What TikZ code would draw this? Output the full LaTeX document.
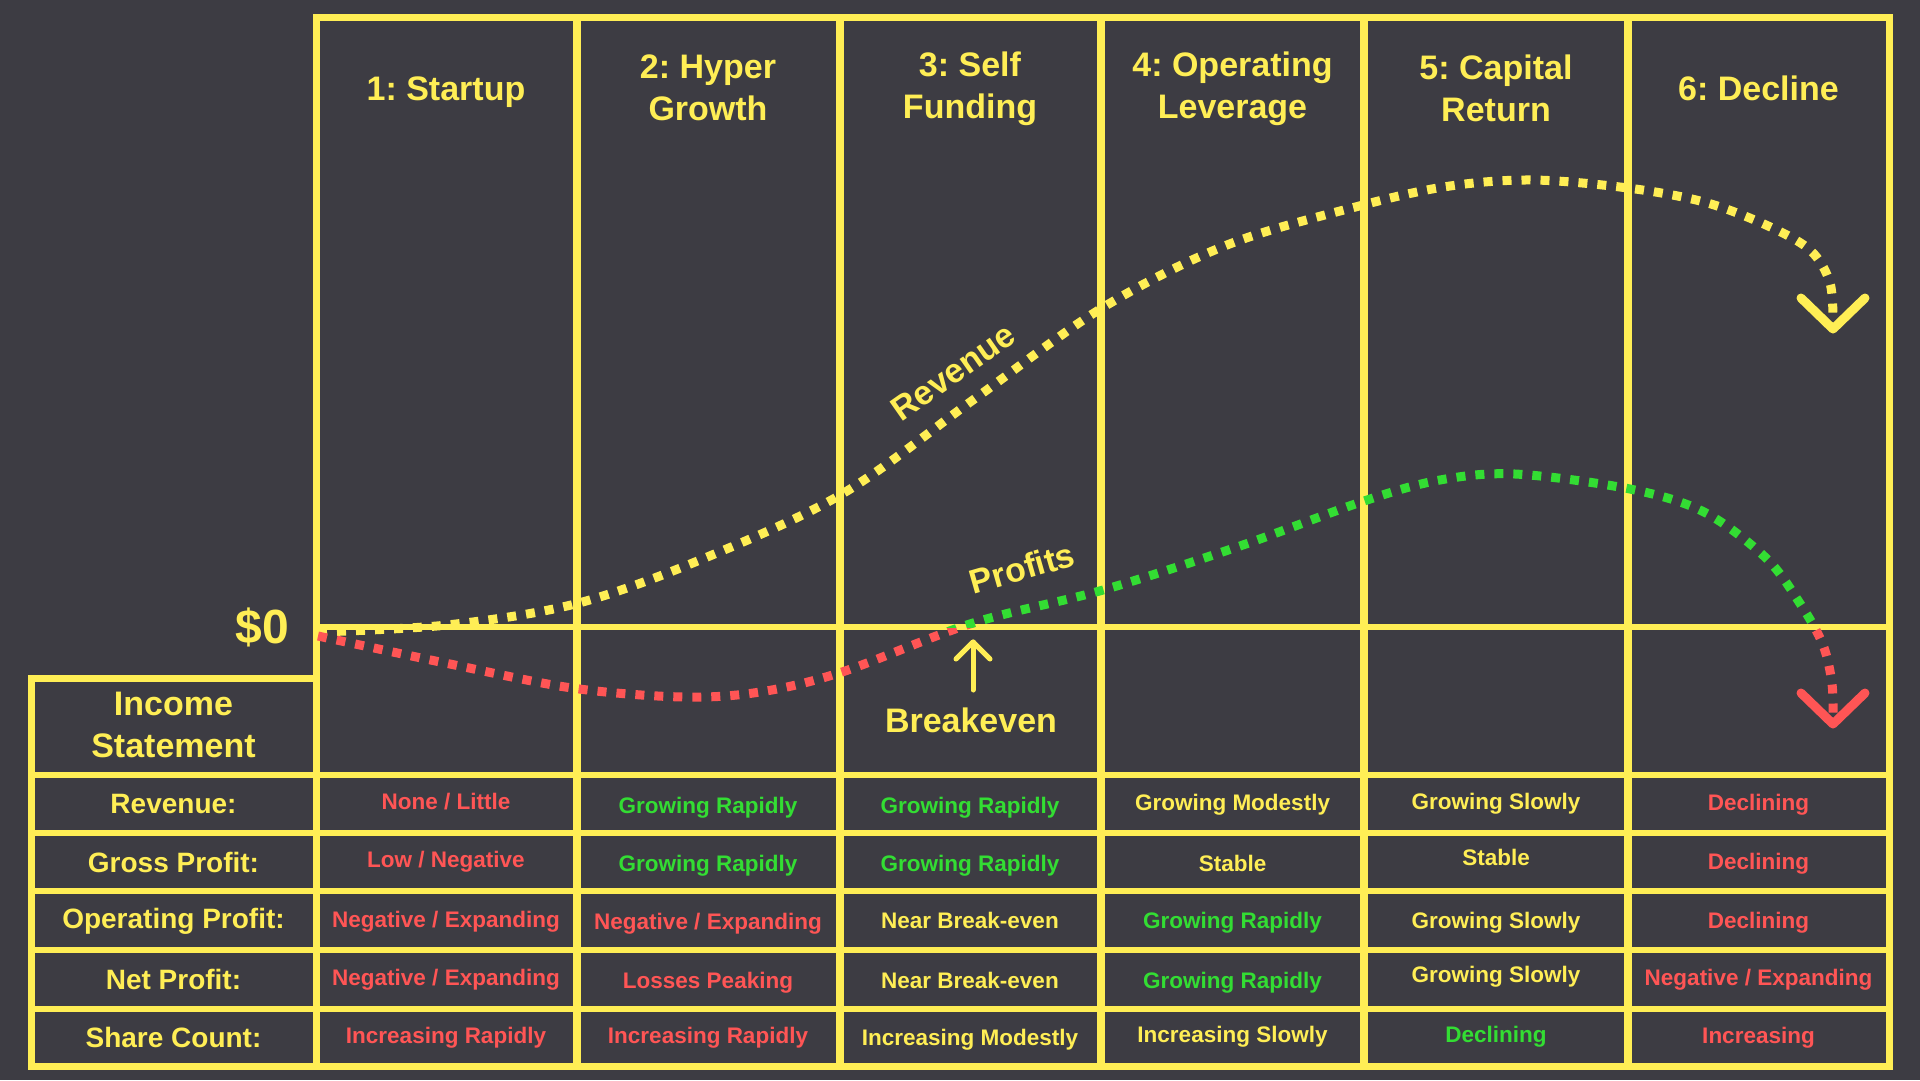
\documentclass[tikz,border=0pt]{standalone}
\usepackage{fontspec}
\setmainfont{Liberation Sans}
\usetikzlibrary{calc}
\definecolor{bg}{HTML}{3D3C43}
\definecolor{ylw}{HTML}{FFEE55}
\definecolor{grn}{HTML}{33DD33}
\definecolor{rd}{HTML}{FF5555}
\frenchspacing
\begin{document}
\begin{tikzpicture}[x=1pt,y=-1pt,
  hdr/.style={text=ylw,font=\bfseries\fontsize{34}{42}\selectfont,align=center,inner sep=0},
  lbl/.style={text=ylw,font=\bfseries\fontsize{28}{34}\selectfont,inner sep=0,text height=20.4pt,text depth=5.9pt,yshift=-2.5pt},
  cell/.style={font=\bfseries\fontsize{22.5}{28}\selectfont,inner sep=0,text height=16.4pt,text depth=4.7pt,yshift=-2pt},
  cy/.style={cell,text=ylw},
  cg/.style={cell,text=grn},
  cr/.style={cell,text=rd},
  gridh/.style={draw=ylw,line width=6},
  gridv/.style={draw=ylw,line width=8},
  outer/.style={draw=ylw,line width=7},
  dotline/.style={line width=9,dash pattern=on 9 off 10},
  tiphead/.style={line width=9,line cap=round,line join=round},
  thinarrow/.style={draw=ylw,line width=5,line cap=round,line join=round}]
\useasboundingbox[fill=bg] (0,0) rectangle (1920,1080);

% ---------- grid ----------
\draw[gridh] (316,627) -- (1889,627);
\draw[gridh] (31,678) -- (316,678);
\foreach \y in {775,833,891,950,1009} \draw[gridh] (31,\y) -- (1889,\y);
\foreach \x in {576.5,839.5,1101,1364,1628} \draw[gridv] (\x,17) -- (\x,1066);
\draw[outer] (316,17) rectangle (1889,1066);
\draw[outer] (31,678) rectangle (316,1066);

% ---------- headers ----------
\node[hdr] (h1) at (446,92) {1: Startup};
\node[hdr] (h2) at (708,88) {2: Hyper\\Growth};
\node[hdr] (h3) at (970,89) {3: Self\\Funding};
\node[hdr] (h4) at (1232.5,89) {4: Operating\\Leverage};
\node[hdr] (h5) at (1496,88) {5: Capital\\Return};
\node[hdr] (h6) at (1758.5,88) {6: Decline};

% ---------- left labels ----------
\node[text=ylw,font=\bfseries\fontsize{48}{56}\selectfont,inner sep=0,anchor=east] (zero) at (289,627) {\$0};
\node[hdr] (inc) at (173.5,725) {Income\\Statement};
\node[lbl] (l1) at (173.5,804) {Revenue:};
\node[lbl] (l2) at (173.5,863) {Gross Profit:};
\node[lbl] (l3) at (173.5,919) {Operating Profit:};
\node[lbl] (l4) at (173.5,980) {Net Profit:};
\node[lbl] (l5) at (173.5,1038) {Share Count:};

% ---------- cells: Revenue ----------
\node[cr] (c11) at (446,802) {None / Little};
\node[cg] (c12) at (708,806) {Growing Rapidly};
\node[cg] (c13) at (970,806) {Growing Rapidly};
\node[cy] (c14) at (1232.5,803) {Growing Modestly};
\node[cy] (c15) at (1496,802) {Growing Slowly};
\node[cr] (c16) at (1758.5,803) {Declining};
% Gross Profit
\node[cr] (c21) at (446,860) {Low / Negative};
\node[cg] (c22) at (708,864) {Growing Rapidly};
\node[cg] (c23) at (970,864) {Growing Rapidly};
\node[cy] (c24) at (1232.5,864) {Stable};
\node[cy] (c25) at (1496,858) {Stable};
\node[cr] (c26) at (1758.5,862) {Declining};
% Operating Profit
\node[cr] (c31) at (446,920) {Negative / Expanding};
\node[cr] (c32) at (708,922) {Negative / Expanding};
\node[cy] (c33) at (970,921) {Near Break-even};
\node[cg] (c34) at (1232.5,921) {Growing Rapidly};
\node[cy] (c35) at (1496,921) {Growing Slowly};
\node[cr] (c36) at (1758.5,921) {Declining};
% Net Profit
\node[cr] (c41) at (446,978) {Negative / Expanding};
\node[cr] (c42) at (708,981) {Losses Peaking};
\node[cy] (c43) at (970,981) {Near Break-even};
\node[cg] (c44) at (1232.5,981) {Growing Rapidly};
\node[cy] (c45) at (1496,975) {Growing Slowly};
\node[cr] (c46) at (1758.5,978) {Negative / Expanding};
% Share Count
\node[cr] (c51) at (446,1036) {Increasing Rapidly};
\node[cr] (c52) at (708,1036) {Increasing Rapidly};
\node[cy] (c53) at (970,1038) {Increasing Modestly};
\node[cy] (c54) at (1232.5,1035) {Increasing Slowly};
\node[cg] (c55) at (1496,1035) {Declining};
\node[cr] (c56) at (1758.5,1036) {Increasing};

% ---------- curve labels ----------
\node[hdr,rotate=35] (revlbl) at (953,372) {Revenue};
\node[hdr,rotate=16] (proflbl) at (1022,568) {Profits};
\node[hdr] (brk) at (971,720) {Breakeven};
\coordinate (brktip) at (973,642);
\coordinate (brkfoot) at (973,690);
\draw[thinarrow] (brkfoot) -- (brktip);
\draw[thinarrow] ($(brktip)+(-17,17)$) -- (brktip) -- ($(brktip)+(17,17)$);

% ---------- revenue curve ----------
\draw[ylw,dotline] plot[smooth,tension=0.55] coordinates {
  (318,632) (447,625) (575,604) (700,560) (842,494) (973,400) (1102,308)
  (1227,245) (1363,205) (1450,186) (1533,180) (1628,188) (1704,202)
  (1766,225) (1810,250) (1830,283) (1833,326)};
\coordinate (revtip) at (1833,329);
\draw[ylw,tiphead] ($(revtip)+(-32,-31)$) -- (revtip) -- ($(revtip)+(32,-31)$);

% ---------- profit curve ----------
\def\profitpath{plot[smooth,tension=0.55] coordinates {
  (318,636) (450,664) (572,688) (683,697) (760,692) (842,672) (973,623)
  (1103,590) (1240,546) (1364,501) (1440,480) (1515,474) (1630,489)
  (1704,512) (1766,558) (1801,605) (1823,645) (1832,684) (1833,722)}}
\begin{scope}
  \clip (0,627) rectangle (1920,1080);
  \draw[rd,dotline] \profitpath;
\end{scope}
\begin{scope}
  \clip (0,0) rectangle (1920,627);
  \draw[grn,dotline] \profitpath;
\end{scope}
\coordinate (proftip) at (1833,724);
\draw[rd,tiphead] ($(proftip)+(-32,-31)$) -- (proftip) -- ($(proftip)+(32,-31)$);
\end{tikzpicture}
\end{document}
